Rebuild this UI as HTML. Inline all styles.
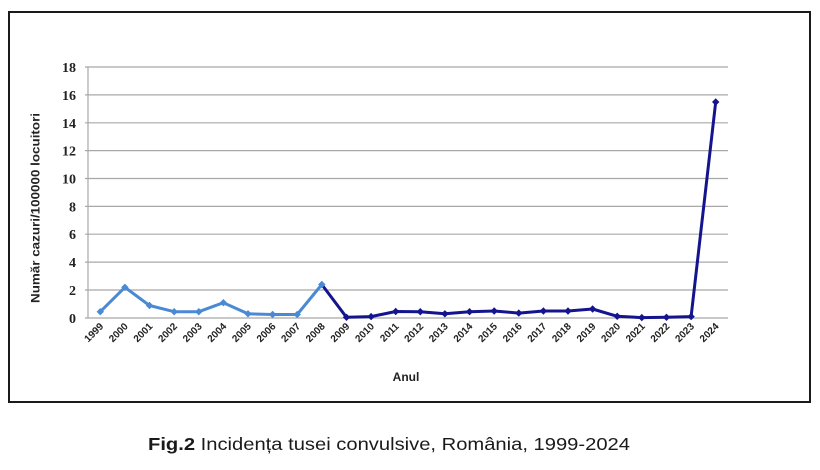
<!DOCTYPE html>
<html><head><meta charset="utf-8"><style>
html,body{margin:0;padding:0;background:#fff;}
svg{display:block;}
</style></head><body>
<svg width="820" height="470" viewBox="0 0 820 470" xmlns="http://www.w3.org/2000/svg">
<rect x="0" y="0" width="820" height="470" fill="#fff"/>
<rect x="9" y="12" width="801" height="390" fill="#fff" stroke="#1a1a1a" stroke-width="2"/>
<g stroke="#a8a8a8" stroke-width="1.2">
<line x1="85" y1="67" x2="728" y2="67"/>
<line x1="85" y1="94.9" x2="728" y2="94.9"/>
<line x1="85" y1="122.8" x2="728" y2="122.8"/>
<line x1="85" y1="150.6" x2="728" y2="150.6"/>
<line x1="85" y1="178.5" x2="728" y2="178.5"/>
<line x1="85" y1="206.4" x2="728" y2="206.4"/>
<line x1="85" y1="234.2" x2="728" y2="234.2"/>
<line x1="85" y1="262.1" x2="728" y2="262.1"/>
<line x1="85" y1="290" x2="728" y2="290"/>
<line x1="85" y1="318" x2="728" y2="318"/>
<line x1="88" y1="67" x2="88" y2="318"/>
</g>
<g font-family="Liberation Serif, serif" font-weight="bold" font-size="14" fill="#222" text-anchor="end">
<text x="76" y="72">18</text>
<text x="76" y="99.9">16</text>
<text x="76" y="127.8">14</text>
<text x="76" y="155.6">12</text>
<text x="76" y="183.5">10</text>
<text x="76" y="211.4">8</text>
<text x="76" y="239.2">6</text>
<text x="76" y="267.1">4</text>
<text x="76" y="295">2</text>
<text x="76" y="323">0</text>
</g>
<text transform="translate(39.5,208) rotate(-90)" text-anchor="middle" font-family="Liberation Sans, sans-serif" font-weight="bold" font-size="11.5" fill="#222" textLength="190" lengthAdjust="spacingAndGlyphs">Număr cazuri/100000 locuitori</text>
<g font-family="Liberation Sans, sans-serif" font-weight="bold" font-size="10" fill="#222" text-anchor="end">
<text transform="translate(104,327) rotate(-45)">1999</text>
<text transform="translate(128.6,327) rotate(-45)">2000</text>
<text transform="translate(153.2,327) rotate(-45)">2001</text>
<text transform="translate(177.8,327) rotate(-45)">2002</text>
<text transform="translate(202.5,327) rotate(-45)">2003</text>
<text transform="translate(227.1,327) rotate(-45)">2004</text>
<text transform="translate(251.7,327) rotate(-45)">2005</text>
<text transform="translate(276.3,327) rotate(-45)">2006</text>
<text transform="translate(300.9,327) rotate(-45)">2007</text>
<text transform="translate(325.5,327) rotate(-45)">2008</text>
<text transform="translate(350.2,327) rotate(-45)">2009</text>
<text transform="translate(374.8,327) rotate(-45)">2010</text>
<text transform="translate(399.4,327) rotate(-45)">2011</text>
<text transform="translate(424,327) rotate(-45)">2012</text>
<text transform="translate(448.6,327) rotate(-45)">2013</text>
<text transform="translate(473.2,327) rotate(-45)">2014</text>
<text transform="translate(497.8,327) rotate(-45)">2015</text>
<text transform="translate(522.5,327) rotate(-45)">2016</text>
<text transform="translate(547.1,327) rotate(-45)">2017</text>
<text transform="translate(571.7,327) rotate(-45)">2018</text>
<text transform="translate(596.3,327) rotate(-45)">2019</text>
<text transform="translate(620.9,327) rotate(-45)">2020</text>
<text transform="translate(645.5,327) rotate(-45)">2021</text>
<text transform="translate(670.2,327) rotate(-45)">2022</text>
<text transform="translate(694.8,327) rotate(-45)">2023</text>
<text transform="translate(719.4,327) rotate(-45)">2024</text>
</g>
<text x="406" y="381" text-anchor="middle" font-family="Liberation Sans, sans-serif" font-weight="bold" font-size="12" fill="#222">Anul</text>
<polyline fill="none" stroke="#4a8ad4" stroke-width="3" stroke-linejoin="round" points="100.3,311.7 124.9,287.3 149.5,305.5 174.2,311.7 198.8,311.7 223.4,302.7 248,313.8 272.6,314.5 297.2,314.5 321.8,284.5"/>
<polyline fill="none" stroke="#14148f" stroke-width="3" stroke-linejoin="round" points="321.8,284.5 346.5,317.3 371.1,316.6 395.7,311.5 420.3,311.7 444.9,313.8 469.5,311.7 494.2,311 518.8,313.1 543.4,311 568,311 592.6,309 617.2,316.3 641.8,317.6 666.5,317.3 691.1,316.6 715.7,102"/>
<g fill="#4a8ad4">
<path d="M100.3,308 L104,311.7 L100.3,315.4 L96.6,311.7Z"/>
<path d="M124.9,283.6 L128.6,287.3 L124.9,291 L121.2,287.3Z"/>
<path d="M149.5,301.8 L153.2,305.5 L149.5,309.2 L145.8,305.5Z"/>
<path d="M174.2,308 L177.9,311.7 L174.2,315.4 L170.5,311.7Z"/>
<path d="M198.8,308 L202.5,311.7 L198.8,315.4 L195.1,311.7Z"/>
<path d="M223.4,299 L227.1,302.7 L223.4,306.4 L219.7,302.7Z"/>
<path d="M248,310.1 L251.7,313.8 L248,317.5 L244.3,313.8Z"/>
<path d="M272.6,310.8 L276.3,314.5 L272.6,318.2 L268.9,314.5Z"/>
<path d="M297.2,310.8 L300.9,314.5 L297.2,318.2 L293.5,314.5Z"/>
<path d="M321.8,280.8 L325.5,284.5 L321.8,288.2 L318.1,284.5Z"/>
</g>
<g fill="#14148f">
<path d="M346.5,313.6 L350.2,317.3 L346.5,321 L342.8,317.3Z"/>
<path d="M371.1,312.9 L374.8,316.6 L371.1,320.3 L367.4,316.6Z"/>
<path d="M395.7,307.8 L399.4,311.5 L395.7,315.2 L392,311.5Z"/>
<path d="M420.3,308 L424,311.7 L420.3,315.4 L416.6,311.7Z"/>
<path d="M444.9,310.1 L448.6,313.8 L444.9,317.5 L441.2,313.8Z"/>
<path d="M469.5,308 L473.2,311.7 L469.5,315.4 L465.8,311.7Z"/>
<path d="M494.2,307.3 L497.9,311 L494.2,314.7 L490.5,311Z"/>
<path d="M518.8,309.4 L522.5,313.1 L518.8,316.8 L515.1,313.1Z"/>
<path d="M543.4,307.3 L547.1,311 L543.4,314.7 L539.7,311Z"/>
<path d="M568,307.3 L571.7,311 L568,314.7 L564.3,311Z"/>
<path d="M592.6,305.3 L596.3,309 L592.6,312.7 L588.9,309Z"/>
<path d="M617.2,312.6 L620.9,316.3 L617.2,320 L613.5,316.3Z"/>
<path d="M641.8,313.9 L645.5,317.6 L641.8,321.3 L638.1,317.6Z"/>
<path d="M666.5,313.6 L670.2,317.3 L666.5,321 L662.8,317.3Z"/>
<path d="M691.1,312.9 L694.8,316.6 L691.1,320.3 L687.4,316.6Z"/>
<path d="M715.7,98.3 L719.4,102 L715.7,105.7 L712,102Z"/>
</g>
<text x="148" y="450" font-family="Liberation Sans, sans-serif" font-size="17.5" fill="#1a1a1a" textLength="482" lengthAdjust="spacingAndGlyphs"><tspan font-weight="bold">Fig.2</tspan> Incidența tusei convulsive, România, 1999-2024</text>
</svg>
</body></html>
